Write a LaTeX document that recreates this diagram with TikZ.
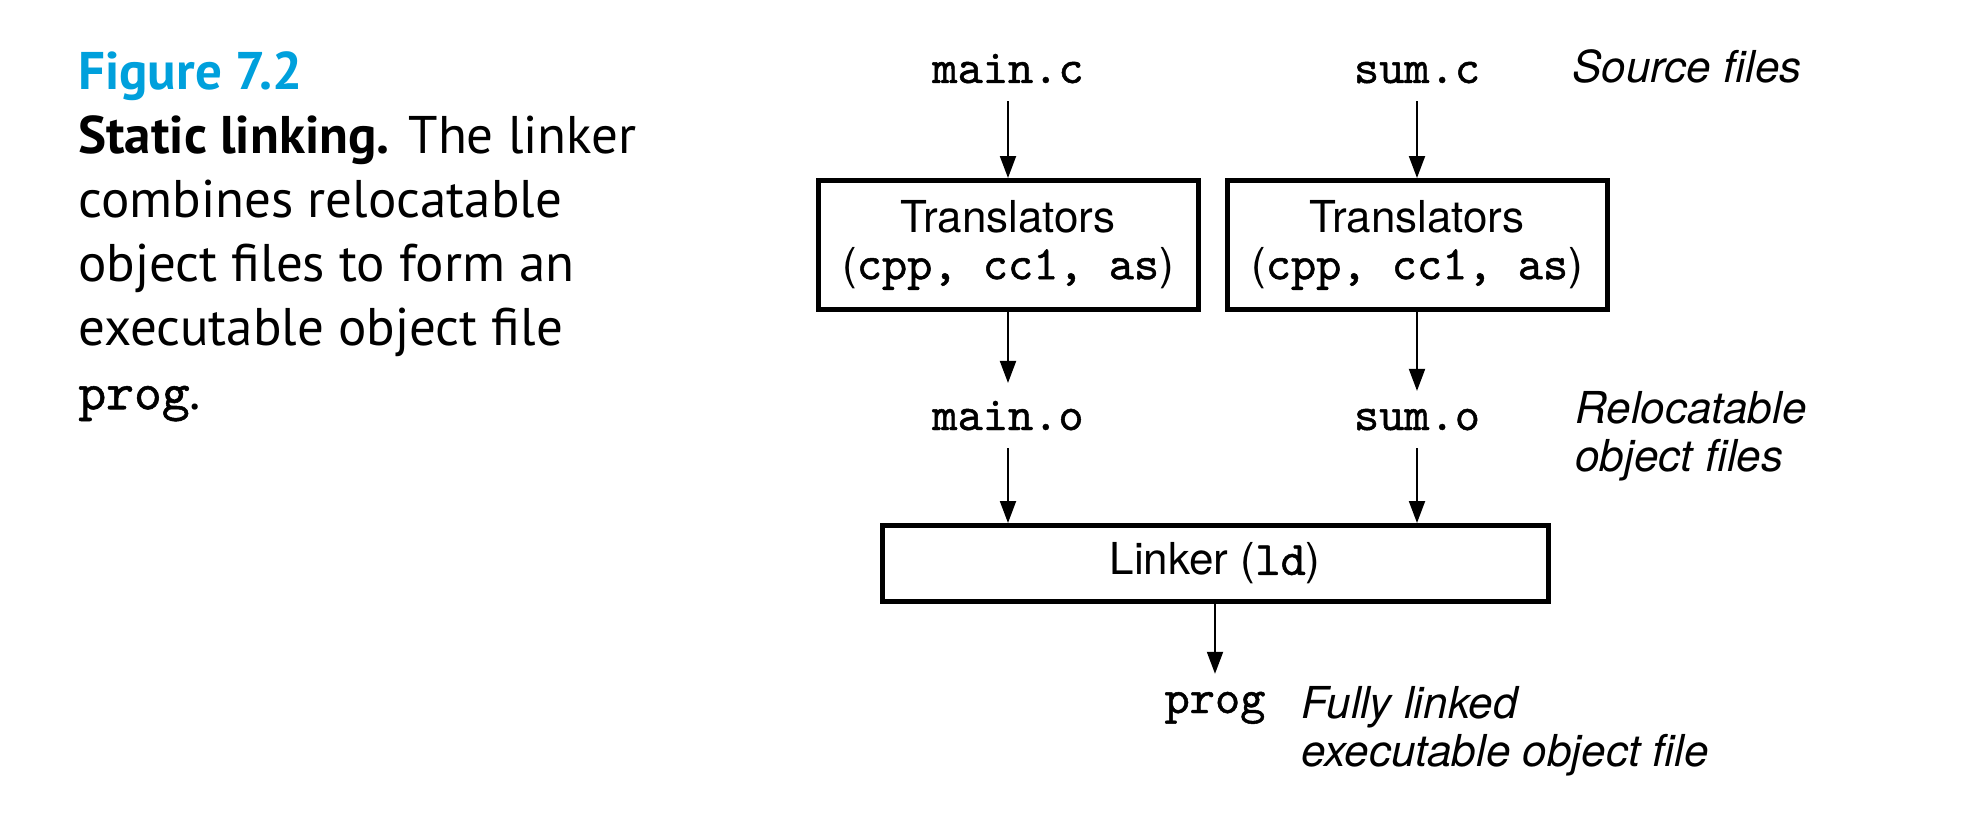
\documentclass[tikz,border=0pt]{standalone}
\usepackage{fontspec}
\setmainfont{TeX Gyre Heros}
\setmonofont{lmmono10-regular.otf}[FakeBold=1]
\newfontfamily\capfont{PT Sans}
\usetikzlibrary{arrows.meta,positioning}
\definecolor{figblue}{RGB}{0,160,220}
\def\leftcol{1008}
\def\rightcol{1417}
\def\midcol{1215}
\tikzstyle{arrow} = [line width=1pt,-{Triangle[length=11pt,width=8pt]}]
\newcommand{\code}[1]{{\fontsize{24pt}{26pt}\selectfont\ttfamily #1}}

\begin{document}
\begin{tikzpicture}[x=0.5pt,y=-0.5pt]
    \tikzstyle{file}=[inner sep=0pt, outer ysep=9pt, font=\fontsize{24pt}{26pt}\selectfont\ttfamily]
    \tikzstyle{tool}=[draw, line width=2.5pt, align=center, inner sep=0pt, font=\fontsize{22pt}{23.5pt}\selectfont]
    \tikzstyle{note}=[inner sep=0pt, align=left, anchor=north west, font=\fontsize{22pt}{24pt}\selectfont\itshape]
    \useasboundingbox (0,0) rectangle (1988,830);

    % Caption on the left
    \node[anchor=north west, inner sep=0pt, align=left,
          font=\capfont\fontsize{26.5pt}{32pt}\selectfont] (caption) at (78,51)
        {{\bfseries\color{figblue}Figure 7.2}\\
         {\bfseries Static linking.} The linker\\
         combines relocatable\\
         object files to form an\\
         executable object file\\
         {\ttfamily prog}.};

    % Source files
    \node[file, anchor=base] (main-c) at (\leftcol,83) {main.c};
    \node[file, anchor=base] (sum-c) at (\rightcol,83) {sum.c};
    \node[note] (src-note) at (1572,49) {Source files};

    % Translators
    \node[tool, minimum width=190pt, minimum height=64.5pt] (trans-1) at (\leftcol,245)
        {Translators\\(\code{cpp, cc1, as})};
    \node[tool, minimum width=190pt, minimum height=64.5pt] (trans-2) at (\rightcol,245)
        {Translators\\(\code{cpp, cc1, as})};

    % Relocatable object files
    \node[file, anchor=base] (main-o) at (\leftcol,430) {main.o};
    \node[file, anchor=base] (sum-o) at (\rightcol,430) {sum.o};
    \node[note] (obj-note) at (1575,391) {Relocatable\\object files};

    % Linker and the result
    \node[tool, minimum width=333pt, minimum height=38pt] (linker) at (\midcol,563.5)
        {Linker (\code{ld})};
    \node[file, anchor=base] (prog) at (\midcol,713) {prog};
    \node[note] (exe-note) at (1301,686) {Fully linked\\executable object file};

    % Arrows
    \draw[arrow] (main-c) -- (trans-1);
    \draw[arrow] (sum-c) -- (trans-2);
    \draw[arrow] (trans-1) -- (main-o);
    \draw[arrow] (trans-2) -- (sum-o);
    \draw[arrow] (main-o) -- (main-o |- linker.north);
    \draw[arrow] (sum-o) -- (sum-o |- linker.north);
    \draw[arrow] (linker) -- (prog);
\end{tikzpicture}
\end{document}
